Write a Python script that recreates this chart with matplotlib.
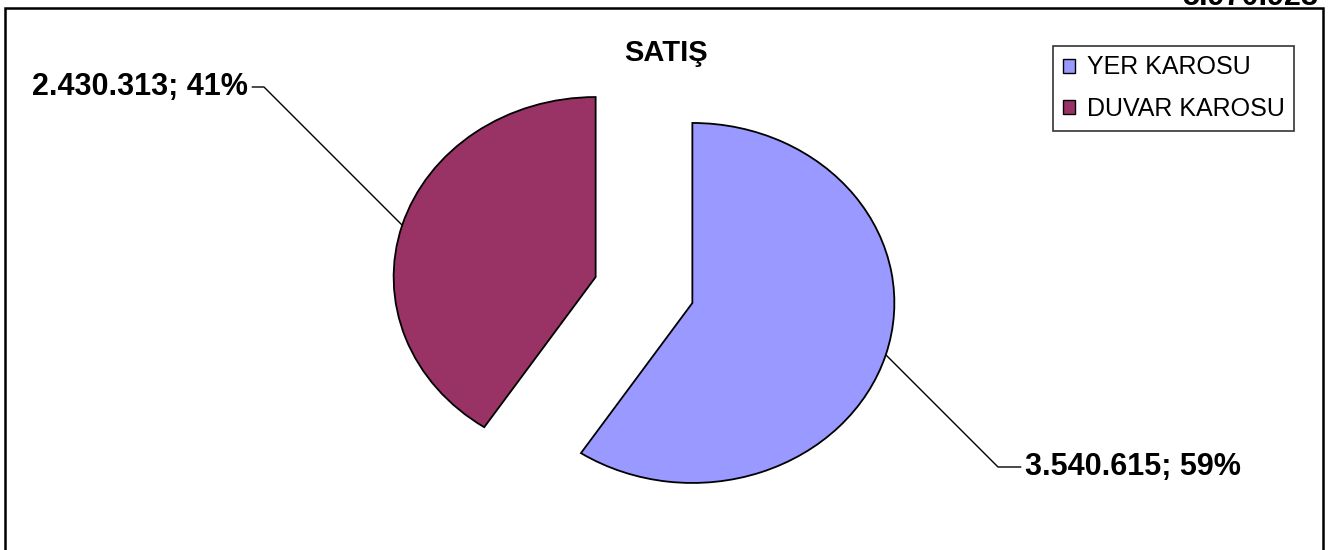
import matplotlib
matplotlib.use('Agg')
import matplotlib.pyplot as plt
from matplotlib.patches import Patch, Rectangle
import numpy as np

plt.rcParams['font.family'] = ['Liberation Sans', 'DejaVu Sans']

# data
categories = ['YER KAROSU', 'DUVAR KAROSU']
values = [3540615, 2430313]
colors = ['#9999FF', '#993366']
title = 'SATIŞ'


def fmt_num(v):
    return f'{v:,}'.replace(',', '.')


def main():
    total = sum(values)
    fig = plt.figure(figsize=(13.37, 5.5), dpi=100)
    ax = fig.add_axes([0, 0, 1, 1])

    wedges, _ = ax.pie(values, colors=colors, startangle=90, counterclock=False,
                       explode=[0.25, 0.25],
                       wedgeprops=dict(edgecolor='black', linewidth=1.3))
    ax.set_aspect('auto')
    # ellipse: ~202 px per unit horizontally, ~180 px vertically
    ax.set_xlim(-644 / 202, (1337 - 644) / 202)
    ax.set_ylim(-(550 - 290) / 180, 290 / 180)
    ax.axis('off')

    # data labels with leader lines
    label_pos = [(1025 / 1337, 1 - 467 / 550, 'left', (0, 0.5)),
                 (248 / 1337, 1 - 87 / 550, 'right', (1, 0.5))]
    for w, v, (tx, ty, ha, rp) in zip(wedges, values, label_pos):
        mid = np.deg2rad((w.theta1 + w.theta2) / 2)
        cx, cy = w.center
        xy = (cx + w.r * np.cos(mid), cy + w.r * np.sin(mid))
        txt = f'{fmt_num(v)}; {round(v / total * 100)}%'
        ax.annotate(txt, xy=xy, xytext=(tx, ty), textcoords='figure fraction',
                    ha=ha, va='center', fontsize=22, fontweight='bold',
                    arrowprops=dict(arrowstyle='-', color='black', lw=1,
                                    relpos=rp, shrinkA=1, shrinkB=0,
                                    connectionstyle='angle,angleA=0,angleB=-45,rad=0'))

    fig.text(666 / 1337, 1 - 53 / 550, title, ha='center', va='center',
             fontsize=21, fontweight='bold')

    # legend
    handles = [Patch(facecolor=c, edgecolor='black', linewidth=1) for c in colors]
    leg = fig.legend(handles, categories, loc='upper left',
                     bbox_to_anchor=(1053 / 1337, 1 - 46 / 550),
                     bbox_transform=fig.transFigure, borderaxespad=0,
                     fontsize=18, frameon=True, fancybox=False, shadow=False,
                     handlelength=0.48, handleheight=0.48, handletextpad=0.5,
                     labelspacing=0.7, borderpad=0.38)
    leg.get_frame().set_edgecolor('black')
    leg.get_frame().set_linewidth(1.2)

    # outer chart border (bottom runs off the picture)
    fig.patches.append(Rectangle((5 / 1337, -0.05), 1318 / 1337, 1 - 8 / 550 + 0.05,
                                 transform=fig.transFigure, fill=False,
                                 edgecolor='black', linewidth=1.8))

    # total, clipped at the top edge as in the source chart
    fig.text(1318 / 1337, 1 - 5 / 550, fmt_num(total), ha='right', va='baseline',
             fontsize=22, fontweight='bold')

    fig.savefig('out.png', dpi=100)


if __name__ == '__main__':
    main()
